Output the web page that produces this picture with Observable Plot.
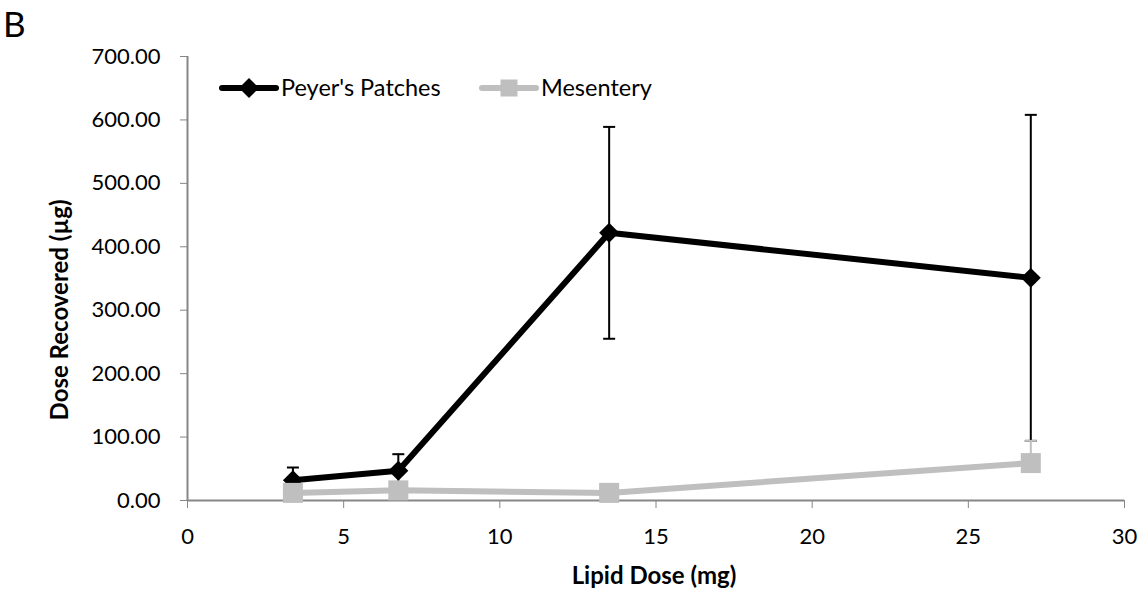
<!DOCTYPE html>
<html>
<head>
<meta charset="utf-8">
<script src="https://cdn.jsdelivr.net/npm/d3@7"></script>
<script src="https://cdn.jsdelivr.net/npm/@observablehq/plot@0.6"></script>
<style>
  html, body { margin: 0; padding: 0; background: #fff; }
  #chart svg { display: block; }
</style>
</head>
<body>
<div id="chart"></div>
<script>
// ---- data ----
const lipidDose = [3.375, 6.75, 13.5, 27];
const peyersMean = [32, 47, 422, 351];
const peyersErr = [20, 26, 167, 257];
const mesenteryMean = [12, 16, 12, 59];
const mesenteryErr = [4, 5, 3, 35];
const xTicks = [0, 5, 10, 15, 20, 25, 30];
const yTicks = [0, 100, 200, 300, 400, 500, 600, 700];
const seriesNames = ["Peyer's Patches", "Mesentery"];

const peyers = lipidDose.map((x, i) => ({x, y: peyersMean[i], lo: peyersMean[i] - peyersErr[i], hi: peyersMean[i] + peyersErr[i]}));
const mesentery = lipidDose.map((x, i) => ({x, y: mesenteryMean[i], hi: mesenteryMean[i] + mesenteryErr[i]}));

const FONT = "Lato, 'Open Sans', sans-serif";
const GRAY = "#bfbfbf";
const AXIS = "#868686";

// horizontal cap symbol for error bars
const capSymbol = {
  draw(ctx, size) {
    const r = Math.sqrt(size / Math.PI);
    ctx.moveTo(-r, 0);
    ctx.lineTo(r, 0);
  }
};

const W = 1143, H = 599;
const plot = Plot.plot({
  width: W,
  height: H,
  marginLeft: 187,
  marginRight: 19,
  marginTop: 56,
  marginBottom: 99,
  style: {fontFamily: FONT, fontSize: "22px", color: "#000", background: "#fff"},
  x: {domain: [0, 30], ticks: xTicks, label: null},
  y: {domain: [0, 700], ticks: yTicks, label: null},
  marks: [
    Plot.axisX({ticks: xTicks, tickSize: 8, tickPadding: 20, stroke: AXIS, tickFormat: d => String(d), fontSize: 22, fill: "#000"}),
    Plot.axisY({ticks: yTicks, tickSize: 7, tickPadding: 20, stroke: AXIS, tickFormat: d3.format(".2f"), fontSize: 22, fill: "#000"}),
    Plot.ruleY([0], {stroke: AXIS, strokeWidth: 2}),
    Plot.ruleX([0], {stroke: AXIS, strokeWidth: 2}),
    // Peyer's error bars
    Plot.ruleX(peyers, {x: "x", y1: "lo", y2: "hi", stroke: "#000", strokeWidth: 2}),
    Plot.dot(peyers, {x: "x", y: "hi", symbol: capSymbol, r: 6, stroke: "#000", strokeWidth: 2}),
    Plot.dot(peyers, {x: "x", y: "lo", symbol: capSymbol, r: 6, stroke: "#000", strokeWidth: 2}),
    // Peyer's line
    Plot.line(peyers, {x: "x", y: "y", stroke: "#000", strokeWidth: 6}),
    Plot.dot(peyers, {x: "x", y: "y", symbol: "diamond2", r: 9, fill: "#000", stroke: "none"}),
    // Mesentery error bars (upper)
    Plot.ruleX(mesentery, {x: "x", y1: "y", y2: "hi", stroke: GRAY, strokeWidth: 2}),
    Plot.dot(mesentery, {x: "x", y: "hi", symbol: capSymbol, r: 6, stroke: GRAY, strokeWidth: 2}),
    // Mesentery line
    Plot.line(mesentery, {x: "x", y: "y", stroke: GRAY, strokeWidth: 6}),
    Plot.dot(mesentery, {x: "x", y: "y", symbol: "square", r: 11.3, fill: GRAY, stroke: "none"})
  ]
});

const svg = d3.select(plot);
// panel letter
svg.append("text").attr("x", 3).attr("y", 37).attr("text-anchor", "start")
  .style("font-size", "35px").style("font-family", FONT).attr("fill", "#000").text("B");
// axis titles
svg.append("text").attr("transform", "translate(68,310) rotate(-90)").attr("text-anchor", "middle")
  .style("font-size", "24px").style("font-weight", "bold").style("font-family", FONT).attr("fill", "#000").text("Dose Recovered (µg)");
svg.append("text").attr("x", 654).attr("y", 584).attr("text-anchor", "middle")
  .style("font-size", "24px").style("font-weight", "bold").style("font-family", FONT).attr("fill", "#000").text("Lipid Dose (mg)");

// legend
const sym = d3.symbol();
const leg = svg.append("g").style("font-family", FONT).style("font-size", "23.5px");
const items = [
  {name: seriesNames[0], x0: 222, color: "#000", shape: d3.symbolDiamond2, size: Math.PI * 81},
  {name: seriesNames[1], x0: 482, color: GRAY, shape: d3.symbolSquare, size: 17 * 17}
];
items.forEach(it => {
  const g = leg.append("g").attr("transform", `translate(${it.x0},88)`);
  g.append("line").attr("x1", 0).attr("x2", 54).attr("stroke", it.color).attr("stroke-width", 6).attr("stroke-linecap", "round");
  g.append("path").attr("transform", "translate(27,0)").attr("d", sym.type(it.shape).size(it.size)()).attr("fill", it.color);
  g.append("text").attr("x", 59).attr("y", 8).attr("text-anchor", "start").attr("fill", "#000").text(it.name);
});

document.getElementById("chart").appendChild(plot);
</script>
</body>
</html>
